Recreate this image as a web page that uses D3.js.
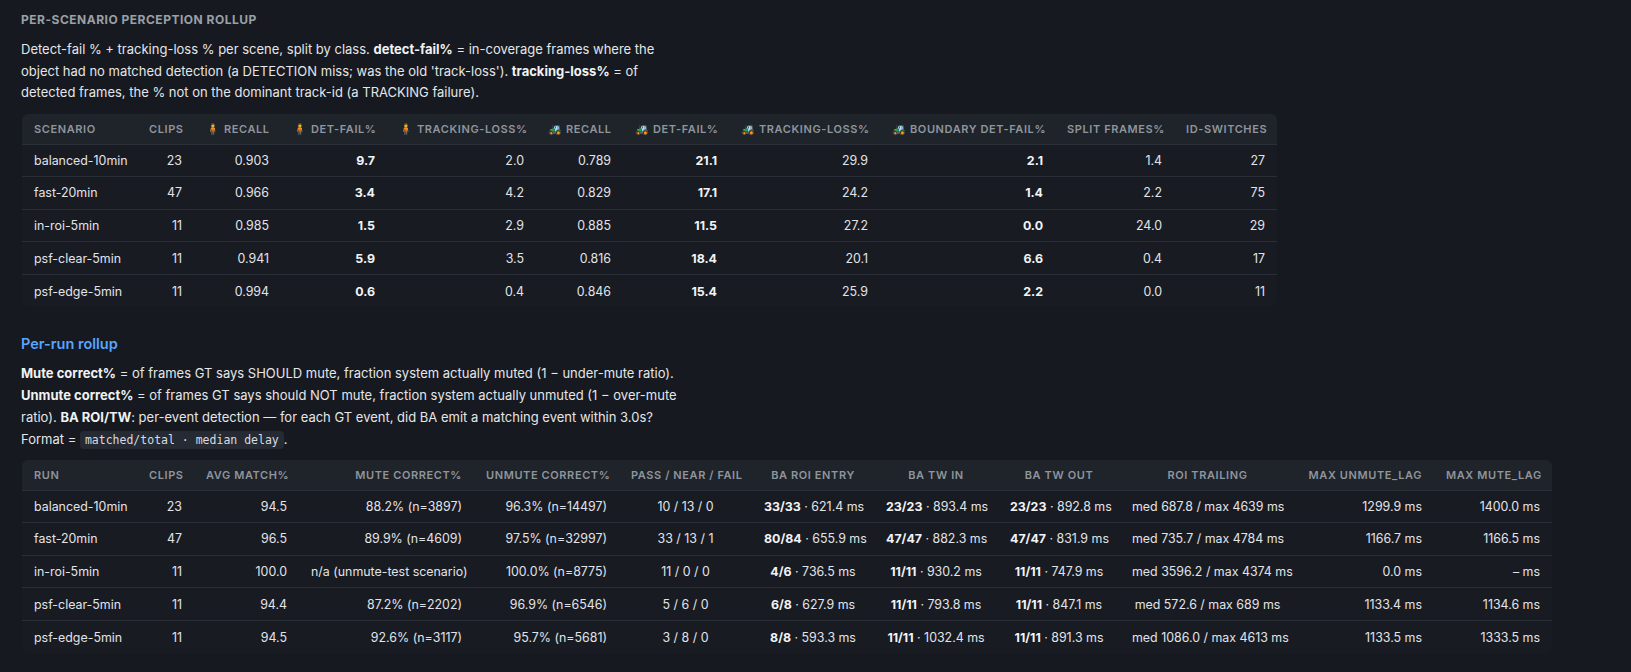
<!DOCTYPE html>
<html>
<head>
<meta charset="utf-8">
<script src="https://cdn.jsdelivr.net/npm/d3@7"></script>
<style>
  html, body { margin: 0; padding: 0; background: #16191f; }
  body { width: 1631px; height: 672px; position: relative; overflow: hidden;
         font-family: Inter, "Noto Sans", sans-serif; color: #e6e8eb; }
  .block { position: absolute; left: 21px; white-space: nowrap; }
  .kicker { font-size: 12px; font-weight: 700; letter-spacing: 0.5px; color: #9ba0a7; }
  .para { font-size: 13px; line-height: 21.5px; color: #e4e6e9; }
  .para.p2 { line-height: 22px; }
  .para b { font-weight: 700; color: #f0f2f4; }
  .heading { font-size: 14.5px; font-weight: 600; color: #58a6ff; }
  code { font-family: "DejaVu Sans Mono", "Liberation Mono", monospace; font-size: 11.5px;
         background: #262b33; border-radius: 4px; padding: 2px 5px; color: #d8dbe0; }
  table { position: absolute; left: 22px; border-collapse: separate; border-spacing: 0;
          table-layout: fixed; background: #181b22; border-radius: 6px; overflow: hidden; }
  th, td { padding: 0 12px; white-space: nowrap; box-sizing: border-box; overflow: visible; }
  th { height: 30.5px; background: #1f232a; color: #8f959d; font-size: 11px; font-weight: 600;
       letter-spacing: 0.6px; text-transform: uppercase; border-bottom: 1px solid #2c3139; }
  td { height: 32.6px; font-size: 12.4px; color: #e2e4e8; border-bottom: 1px solid #2a2e36; }
  tr:last-child td { border-bottom: none; }
  .l { text-align: left; } .r { text-align: right; } .c { text-align: center; }
  td.bold { font-weight: 700; color: #f2f3f5; }
  td b { font-weight: 700; color: #f2f3f5; }
</style>
</head>
<body>
<script>
// ---- per-scenario perception rollup ----
const scenarios   = ["balanced-10min", "fast-20min", "in-roi-5min", "psf-clear-5min", "psf-edge-5min"];
const clips       = [23, 47, 11, 11, 11];
const pedRecall   = ["0.903", "0.966", "0.985", "0.941", "0.994"];
const pedDetFail  = ["9.7", "3.4", "1.5", "5.9", "0.6"];
const pedTrackLoss = ["2.0", "4.2", "2.9", "3.5", "0.4"];
const vehRecall   = ["0.789", "0.829", "0.885", "0.816", "0.846"];
const vehDetFail  = ["21.1", "17.1", "11.5", "18.4", "15.4"];
const vehTrackLoss = ["29.9", "24.2", "27.2", "20.1", "25.9"];
const vehBoundary = ["2.1", "1.4", "0.0", "6.6", "2.2"];
const splitFrames = ["1.4", "2.2", "24.0", "0.4", "0.0"];
const idSwitches  = [27, 75, 29, 17, 11];

const perceptionHeaders = ["Scenario", "Clips", "🧍 Recall", "🧍 Det-fail%", "🧍 Tracking-loss%",
  "🚜 Recall", "🚜 Det-fail%", "🚜 Tracking-loss%", "🚜 Boundary det-fail%", "Split frames%", "ID-switches"];

// ---- per-run rollup ----
const runs        = ["balanced-10min", "fast-20min", "in-roi-5min", "psf-clear-5min", "psf-edge-5min"];
const runClips    = [23, 47, 11, 11, 11];
const avgMatch    = ["94.5", "96.5", "100.0", "94.4", "94.5"];
const muteCorrect = ["88.2% (n=3897)", "89.9% (n=4609)", "n/a (unmute-test scenario)", "87.2% (n=2202)", "92.6% (n=3117)"];
const unmuteCorrect = ["96.3% (n=14497)", "97.5% (n=32997)", "100.0% (n=8775)", "96.9% (n=6546)", "95.7% (n=5681)"];
const passNearFail = ["10 / 13 / 0", "33 / 13 / 1", "11 / 0 / 0", "5 / 6 / 0", "3 / 8 / 0"];
const roiEntry    = [["33/33", "621.4"], ["80/84", "655.9"], ["4/6", "736.5"], ["6/8", "627.9"], ["8/8", "593.3"]];
const twIn        = [["23/23", "893.4"], ["47/47", "882.3"], ["11/11", "930.2"], ["11/11", "793.8"], ["11/11", "1032.4"]];
const twOut       = [["23/23", "892.8"], ["47/47", "831.9"], ["11/11", "747.9"], ["11/11", "847.1"], ["11/11", "891.3"]];
const roiTrailing = [["687.8", "4639"], ["735.7", "4784"], ["3596.2", "4374"], ["572.6", "689"], ["1086.0", "4613"]];
const maxUnmuteLag = ["1299.9", "1166.7", "0.0", "1133.4", "1133.5"];
const maxMuteLag  = ["1400.0", "1166.5", "–", "1134.6", "1333.5"];

const runHeaders = ["Run", "Clips", "Avg match%", "Mute correct%", "Unmute correct%", "Pass / near / fail",
  "BA ROI entry", "BA TW in", "BA TW out", "ROI trailing", "max unmute_lag", "max mute_lag"];

const body = d3.select("body");

body.append("div").attr("class", "block kicker").style("top", "12px")
  .text("PER-SCENARIO PERCEPTION ROLLUP");

body.append("div").attr("class", "block para").style("top", "39px")
  .html("Detect-fail % + tracking-loss % per scene, split by class. <b>detect-fail%</b> = in-coverage frames where the<br>" +
        "object had no matched detection (a DETECTION miss; was the old 'track-loss'). <b>tracking-loss%</b> = of<br>" +
        "detected frames, the % not on the dominant track-id (a TRACKING failure).");

function drawTable(top, headers, widths, aligns, rows) {
  const table = body.append("table").style("top", top + "px")
    .style("width", d3.sum(widths) + "px");
  table.append("colgroup").selectAll("col").data(widths).join("col")
    .style("width", d => d + "px");
  table.append("thead").append("tr").selectAll("th").data(headers).join("th")
    .attr("class", (d, i) => aligns[i])
    .text(d => d);
  table.append("tbody").selectAll("tr").data(rows).join("tr")
    .selectAll("td").data(r => r).join("td")
    .attr("class", (d, i) => aligns[i] + (d.bold ? " bold" : ""))
    .html(d => d.html);
}

const plain = v => ({ html: String(v) });
const strong = v => ({ html: String(v), bold: true });
const ratio = ([m, t]) => ({ html: `<b>${m}</b> · ${t} ms` });

drawTable(114, perceptionHeaders,
  [115, 57, 87, 106, 149, 87, 106, 151, 175, 119, 103],
  ["l", "r", "r", "r", "r", "r", "r", "r", "r", "r", "r"],
  scenarios.map((s, i) => [plain(s), plain(clips[i]), plain(pedRecall[i]), strong(pedDetFail[i]),
    plain(pedTrackLoss[i]), plain(vehRecall[i]), strong(vehDetFail[i]), plain(vehTrackLoss[i]),
    strong(vehBoundary[i]), plain(splitFrames[i]), plain(idSwitches[i])]));

body.append("div").attr("class", "block heading").style("top", "335px").text("Per-run rollup");

body.append("div").attr("class", "block para p2").style("top", "362px")
  .html("<b>Mute correct%</b> = of frames GT says SHOULD mute, fraction system actually muted (1 − under-mute ratio).<br>" +
        "<b>Unmute correct%</b> = of frames GT says should NOT mute, fraction system actually unmuted (1 − over-mute<br>" +
        "ratio). <b>BA ROI/TW</b>: per-event detection — for each GT event, did BA emit a matching event within 3.0s?<br>" +
        "Format = <code>matched/total · median delay</code>.");

drawTable(460, runHeaders,
  [115, 57, 105, 175, 145, 133, 122, 124, 122, 175, 139, 118],
  ["l", "r", "r", "r", "r", "c", "c", "c", "c", "c", "r", "r"],
  runs.map((s, i) => [plain(s), plain(runClips[i]), plain(avgMatch[i]), plain(muteCorrect[i]),
    plain(unmuteCorrect[i]), plain(passNearFail[i]), ratio(roiEntry[i]), ratio(twIn[i]), ratio(twOut[i]),
    plain(`med ${roiTrailing[i][0]} / max ${roiTrailing[i][1]} ms`), plain(`${maxUnmuteLag[i]} ms`),
    plain(`${maxMuteLag[i]} ms`)]));
</script>
</body>
</html>
